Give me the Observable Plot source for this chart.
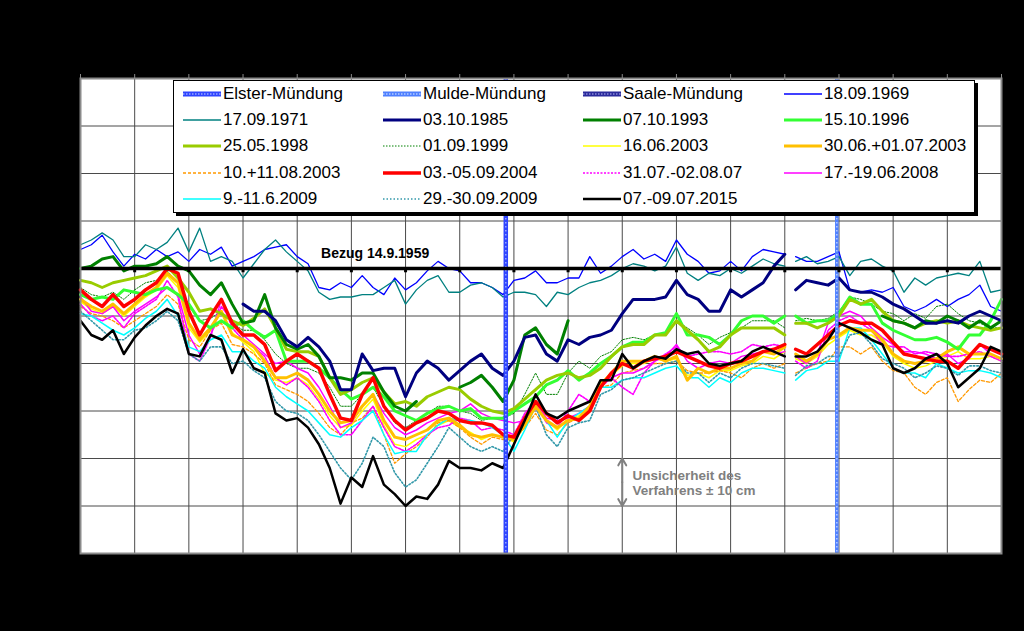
<!DOCTYPE html>
<html><head><meta charset="utf-8">
<script src="https://cdn.jsdelivr.net/npm/d3@7"></script>
<script src="https://cdn.jsdelivr.net/npm/@observablehq/plot@0.6"></script>
<style>
html,body{margin:0;padding:0;background:#000;}
#wrap{position:relative;width:1024px;height:631px;overflow:hidden;background:#000;}
#chart svg{display:block;}
#legend{position:absolute;left:173px;top:80px;width:800px;height:131px;background:#fff;border:1px solid #000;box-shadow:3px 3px 0 #000;font-family:"Liberation Sans",Arial,sans-serif;font-size:17px;color:#000;}
.item{position:absolute;display:flex;align-items:center;height:20px;white-space:nowrap;}
.item svg{margin-right:2px;display:block;}
</style></head><body><div id="wrap"><div id="chart"></div><div id="legend"></div></div>
<script>
// Elbe-km (x)
const km = [120,122,124,126,128,130,132,134,136,138,140,142,144,146,148,150,152,154,156,158,160,162,164,166,168,170,172,174,176,178,180,182,184,186,188,190,192,194,196,198,200,202,204,206,208,210,212,214,216,218,220,222,224,226,228,230,232,234,236,238,240,242,244,246,248,250,251,252,254,256,258,260,262,264,266,268,270,272,274,276,278,280,282,284,286,288,290];
const kmGrid = [120,130,140,150,160,170,180,190,200,210,220,230,240,250,260,270,280,290];
const yGrid = [-120,-100,-80,-60,-40,-20,0,20,40,60,80];

// Mündungen
const mouthNames = ["Elster-Mündung","Mulde-Mündung","Saale-Mündung"];
const mouthKm = [198.5,259.6,290.7];
const mouthColors = ["#2f45ff","#4f80ff","#2b2b9c"];
const mouthLight = ["#9aa8ff","#b5cbff","#8c8cd8"];

// Wasserspiegeländerung gegenüber 14.9.1959 (cm)
const s1969 = [8,10,14,7,1,6,4,8,5,7,3,8,6,9,1,3,5,8, 9,10,5,2,-8,-9,-6,-8,-3,-8,-11,-4,-9,-6,-1,3,0, -1,-6,-6,-8,-11,-5,-4,-1,-6,-6,-4,-4,5,-2,1,5,8, 4,6,3,12,6,3,-2,-1,3,-1,5,8,7,6,null,5,3,3, 5,7,-9,-10,-9,-10,-8,-16,-18,-16,-13,-16,-13,-11,-7,-16,-18];
const s1971 = [10,12,15,12,5,5,10,8,11,17,7,17,3,5,3,-4,2,8, 12,7,3,-1,-10,-13,-12,-12,-11,-11,-8,-5,-15,-9,-5,-3,-10, -10,-7,-6,-8,-12,-10,-10,-11,-16,-10,-11,-8,-6,-5,-3,0,2, 1,-1,1,9,-2,-5,-2,-3,0,-2,1,4,2,1,null,3,5,2, 3,5,-3,3,4,1,-1,-10,-4,-7,-4,-3,-2,-3,3,-10,-9];
const s1985 = [null,null,null,null,null,null,null,null,null,null,null,null,null,null,null,-15,-18,-18, -22,-30,-33,-29,-33,-39,-51,-51,-36,-43,-42,-42,-54,-44,-39,-42,-47, -43,-39,-36,-42,-45,-39,-29,-28,-36,-39,-30,-32,-29,-28,-26,-19,-13, -13,-13,-12,-5,-11,-13,-18,-18,-9,-12,-9,-6,1,6,null,-9,-5,-6, -7,-4,-9,-10,-10,-12,-15,-17,-20,-23,-23,-22,-23,-20,-18,-20,-22];
const s1993 = [0,1,4,5,-1,1,1,2,5,1,-1,-7,-11,-6,-15,-23,-22,-11, -25,-32,-34,-32,-37,-46,-46,-47,-44,-44,-52,-58,-60,-56,null,null,null, -50,-48,-45,-50,-56,-47,-28,-25,-32,-36,-22,null,null,null,null,null,null, null,null,null,null,null,null,null,null,null,null,null,null,null,null,null,null,null,null, null,null,null,null,null,-20,-22,-23,-25,-22,-23,-20,-22,-25,-22,-25,-22];
const s1996 = [-11,-13,-12,-13,-9,-10,-11,-9,-8,-11,-15,-22,-25,-22,-25,-22,-26,-29, -26,-39,-39,-39,-42,-46,-51,-55,-53,-50,-54,-60,-62,-64,-61,-59,-58, -60,-59,-63,-63,-63,-60,-57,-54,-49,-47,-43,-47,-44,-40,-37,-33,-31, -31,-28,-27,-19,-28,-28,-29,-32,-28,-22,-20,-20,-23,-20,null,-20,-23,-22, -22,-19,-12,-15,-15,-23,-26,-28,-30,-30,-29,-31,-34,-28,-28,-22,-13];
const s1998 = [-5,-6,-8,-6,-5,-4,-3,-1,1,-4,-10,-18,-17,-19,-22,-24,-21,-17, -25,-34,-35,-35,-37,-46,-53,-51,-48,-46,-52,-57,-56,-58,-54,-52,-50, -51,-55,-58,-60,-61,-59,-55,-51,-47,-45,-44,-46,-45,-42,-37,-33,-32, -32,-28,-28,-22,-26,-30,-35,-33,-28,-25,-25,-25,-25,-28,null,-23,-23,-25, -23,-20,-13,-15,-13,-18,-22,-23,-25,-23,-22,-23,-22,-24,-25,-26,-25];
const s1999 = [-8,-11,-12,-10,-13,-9,-6,-5,-1,-6,-16,-22,-21,-18,-23,-26,-26,-30, -36,-40,-42,-42,-44,-50,-58,-58,-53,-50,-58,-65,-67,-64,-61,-58,-58, -60,-61,-64,-63,-63,-61,-53,-44,-53,-53,-44,-39,-42,-37,-35,-30,-29, -30,-28,-27,-22,-25,-28,-32,-29,-27,-25,-22,-22,-22,-25,null,-22,-21,-22, -21,-18,-12,-13,-15,-18,-19,-22,-19,-21,-16,-15,-19,-22,-23,-25,-25];
const s2003a = [-14,-17,-19,-16,-20,-16,-12,-9,-3,-8,-25,-31,-26,-18,-27,-31,-35,-44, -47,-48,-46,-49,-55,-62,-67,-66,-60,-55,-66,-74,-75,-72,-70,-66,-64, -67,-69,-72,-70,-71,-73,-66,-57,-64,-68,-63,-62,-58,-48,-45,-41,-40, -40,-38,-39,-38,-45,-44,-46,-43,-43,-41,-40,-37,-38,-35,null,-38,-40,-37, -32,-29,-26,-28,-28,-31,-37,-40,-42,-41,-39,-37,-35,-38,-38,-37,-39];
const s2003b = [-13,-16,-18,-15,-19,-15,-11,-8,-2,-6,-23,-30,-25,-18,-28,-30,-33,-39, -46,-46,-44,-47,-53,-60,-65,-64,-58,-53,-64,-71,-72,-70,-68,-64,-63, -66,-70,-71,-70,-71,-72,-66,-58,-64,-67,-64,-63,-58,-49,-44,-39,-39, -39,-37,-39,-37,-47,-42,-44,-42,-42,-40,-39,-35,-36,-33,null,-36,-39,-36, -30,-28,-25,-26,-26,-30,-36,-39,-40,-39,-38,-35,-33,-36,-36,-36,-38];
const s2003c = [-16,-19,-20,-22,-25,-22,-19,-16,-11,-15,-30,-33,-26,-23,-32,-33,-36,-40, -49,-51,-53,-56,-61,-67,-70,-65,-63,-58,-70,-82,-78,-75,-71,-65,-64, -67,-71,-74,-71,-72,-72,-67,-61,-68,-70,-65,-63,-60,-50,-49,-44,-43, -42,-40,-40,-39,-43,-44,-44,-43,-44,-46,-42,-40,-42,-40,null,-44,-42,-40, -39,-33,-33,-36,-33,-39,-43,-44,-50,-53,-48,-46,-56,-51,-47,-48,-44];
const s2004 = [-9,-13,-16,-11,-16,-13,-9,-6,0,-2,-18,-28,-20,-13,-23,-28,-28,-32, -43,-39,-36,-39,-42,-53,-63,-64,-53,-46,-58,-64,-68,-65,-63,-60,-61, -64,-65,-65,-66,-70,-71,-63,-56,-61,-65,-62,-64,-60,-50,-44,-40,-42, -39,-38,-37,-35,-37,-39,-41,-42,-40,-39,-37,-35,-34,-32,null,-34,-36,-32, -28,-24,-22,-23,-23,-26,-31,-36,-37,-38,-39,-39,-42,-37,-32,-34,-36];
const s2007 = [-15,-20,-22,-20,-25,-19,-16,-13,-5,-12,-36,-39,-29,-13,-25,-30,-33,-37, -46,-49,-46,-50,-56,-64,-70,-70,-64,-58,-67,-75,-77,-74,-70,-67,-66, -63,-64,-68,-67,-68,-70,-61,-56,-65,-67,-60,-53,-56,-50,-46,-50,-53, -44,-39,-36,-33,-37,-36,-35,-35,-36,-35,-32,-33,-32,-33,null,-39,-42,-39, -26,-22,-20,-23,-26,-32,-33,-33,-36,-35,-36,-37,-37,-36,-35,-37,-39];
const s2008 = [-12,-18,-19,-16,-22,-18,-15,-12,-8,-11,-28,-36,-28,-16,-22,-28,-32,-36, -40,-39,-42,-44,-50,-58,-67,-65,-58,-53,-61,-67,-70,-68,-65,-63,-61, -60,-57,-61,-63,-64,-65,-64,-56,-63,-64,-63,-61,-58,-49,-46,-44,-44, -42,-39,-37,-32,-39,-42,-40,-39,-40,-37,-36,-35,-36,-35,null,-37,-40,-36, -23,-20,-18,-20,-25,-29,-32,-35,-35,-36,-38,-36,-40,-38,-32,-36,-38];
const s2009a = [-19,-20,-23,-26,-28,-25,-21,-18,-13,-20,-33,-35,-30,-28,-35,-35,-39,-42, -50,-54,-57,-60,-65,-70,-71,-67,-64,-60,-70,-78,-77,-77,-70,-66,-63, -64,-64,-65,-67,-70,-77,-68,-58,-64,-71,-64,-61,-58,-50,-50,-47,-46, -46,-44,-42,-41,-46,-46,-50,-46,-48,-44,-42,-42,-43,-44,null,-47,-43,-42, -39,-39,-25,-25,-30,-36,-42,-44,-44,-46,-40,-42,-44,-43,-43,-44,-46];
const s2009b = [-18,-22,-26,-30,-30,-26,-25,-22,-18,-22,-36,-39,-33,-33,-40,-39,-43,-46, -56,-60,-61,-64,-70,-77,-84,-89,-82,-71,-75,-86,-92,-89,-82,-75,-67, -71,-75,-77,-75,-77,-70,-64,-58,-70,-75,-67,-65,-64,-53,-51,-47,-46, -44,-42,-40,-39,-44,-44,-48,-44,-46,-42,-40,-40,-41,-42,null,-45,-41,-40, -37,-37,-28,-27,-32,-38,-40,-42,-46,-44,-41,-42,-45,-41,-41,-43,-44];
const s2015 = [-22,-28,-30,-26,-36,-29,-24,-20,-17,-19,-36,-37,-28,-30,-44,-34,-42,-44, -61,-64,-63,-67,-74,-84,-99,-88,-92,-79,-91,-95,-100,-96,-97,-91,-81, -84,-84,-85,-82,-84,-74,-64,-53,-61,-63,-60,-58,-56,-47,-47,-36,-42, -39,-37,-38,-34,-36,-35,-40,-41,-40,-39,-35,-33,-35,-37,null,-37,-37,-35, -30,-23,-25,-27,-30,-32,-42,-44,-42,-38,-36,-40,-50,-46,-42,-33,-35];

const seriesNames = ["18.09.1969","17.09.1971","03.10.1985","07.10.1993","15.10.1996","25.05.1998","01.09.1999","16.06.2003","30.06.+01.07.2003","10.+11.08.2003","03.-05.09.2004","31.07.-02.08.07","17.-19.06.2008","9.-11.6.2009","29.-30.09.2009","07.-09.07.2015"];
const seriesValues = [s1969,s1971,s1985,s1993,s1996,s1998,s1999,s2003a,s2003b,s2003c,s2004,s2007,s2008,s2009a,s2009b,s2015];
const seriesColors = ["#0000ff","#008080","#000080","#008000","#33ff33","#99cc00","#008000","#ffff00","#ffc000","#ff9900","#ff0000","#ff00ff","#ff00ff","#00ffff","#3399aa","#000000"];
const seriesWidths = [1.3,1.3,3,3,3,3,1,1.5,3,1.3,3.5,1.6,1.5,1.5,1.6,2.5];
const seriesDash = [null,null,null,null,null,null,"1.5,1.5",null,null,"3,2",null,"2,1.5",null,null,"1.5,2",null];
const drawOrder = [0,1,6,7,9,11,12,13,14,8,4,5,3,2,10,15];

const bezugLabel = [{km:164.4, v:0, text:"Bezug 14.9.1959"}];
const unsicherheit = [{km:220, vMid:-90, vTop:-80, vBottom:-100}];
const unsicherheitText = [{km:221.9, v:-87.3, text:"Unsicherheit des"},{km:221.9, v:-93.4, text:"Verfahrens ± 10 cm"}];

seriesValues.forEach((a,i)=>{ if(a.length!==km.length) console.error("length mismatch", seriesNames[i], a.length); });

const rows = [];
seriesValues.forEach((vals,i)=>vals.forEach((v,j)=>rows.push({series:i, km:km[j], v:v})));
const mouths = mouthNames.map((n,i)=>({name:n, km:mouthKm[i], i}));

const lineMarks = drawOrder.map(i => Plot.line(rows.filter(r=>r.series===i), {
  x:"km", y:"v", stroke: seriesColors[i], strokeWidth: seriesWidths[i],
  strokeDasharray: seriesDash[i] || undefined, curve:"linear", strokeLinejoin:"round"
}));

const chart = Plot.plot({
  width:1024, height:631,
  marginLeft:80, marginRight:23, marginTop:78, marginBottom:78,
  style:{background:"#000", fontFamily:"Liberation Sans, Arial, sans-serif"},
  x:{domain:[120,290], axis:null},
  y:{domain:[-120,80], axis:null},
  marks:[
    Plot.frame({fill:"#fff", stroke:null}),
    Plot.ruleX(kmGrid, {stroke:"#4a4a4a", strokeWidth:1}),
    Plot.ruleY(yGrid, {stroke:"#4a4a4a", strokeWidth:1}),
    ...lineMarks,
    Plot.ruleX(mouths, {x:"km", stroke:d=>mouthColors[d.i], strokeWidth:d=>d.i===0?4.5:3.5, clip:true}),
    Plot.ruleX(mouths, {x:"km", stroke:d=>mouthLight[d.i], strokeWidth:1.5, strokeDasharray:"1.5,2.5", clip:true}),
    Plot.ruleY([0], {stroke:"#000", strokeWidth:3.5}),
    Plot.ruleX(kmGrid.slice(1,-1), {x:d=>d, y1:0, y2:-1.8, stroke:"#000", strokeWidth:3}),
    Plot.text(bezugLabel, {x:"km", y:"v", text:"text", dy:-15, textAnchor:"start", fontWeight:"bold", fontSize:14, fill:"#000"}),
    Plot.arrow(unsicherheit, {x1:"km", x2:"km", y1:"vMid", y2:"vTop", stroke:"#808080", strokeWidth:2, headLength:9}),
    Plot.arrow(unsicherheit, {x1:"km", x2:"km", y1:"vMid", y2:"vBottom", stroke:"#808080", strokeWidth:2, headLength:9}),
    Plot.text(unsicherheitText, {x:"km", y:"v", text:"text", textAnchor:"start", fontWeight:"bold", fontSize:13.5, fill:"#808080"}),
    Plot.frame({stroke:"#8a8a8a", strokeWidth:2}),
    Plot.axisX(kmGrid, {anchor:"top", tickSize:5, stroke:"#8a8a8a", tickFormat:()=>"", label:null})
  ]
});
document.getElementById("chart").appendChild(chart);

// Legend (inside the plot area, as in the reference)
const legendEntries = mouthNames.map((n,i)=>({name:n, kind:"mouth", i})).concat(seriesNames.map((n,i)=>({name:n, kind:"series", i})));
const colX = [9,209,409,610];
const legend = document.getElementById("legend");
legendEntries.forEach((e,k)=>{
  const row = Math.floor(k/4), col = k%4;
  const div = document.createElement("div");
  div.className = "item";
  div.style.left = colX[col] + "px";
  div.style.top = (3 + row*26.2) + "px";
  let sw;
  if (e.kind==="mouth") {
    sw = `<svg width="38" height="10"><line x1="0" x2="38" y1="5" y2="5" stroke="${mouthColors[e.i]}" stroke-width="5"/><line x1="0" x2="38" y1="5" y2="5" stroke="${mouthLight[e.i]}" stroke-width="1.5" stroke-dasharray="1.5,1.5"/></svg>`;
  } else {
    const d = seriesDash[e.i] ? `stroke-dasharray="${seriesDash[e.i]}"` : "";
    sw = `<svg width="38" height="10"><line x1="0" x2="38" y1="5" y2="5" stroke="${seriesColors[e.i]}" stroke-width="${seriesWidths[e.i]}" ${d}/></svg>`;
  }
  div.innerHTML = sw + `<span>${e.name}</span>`;
  legend.appendChild(div);
});
</script>
</body></html>
